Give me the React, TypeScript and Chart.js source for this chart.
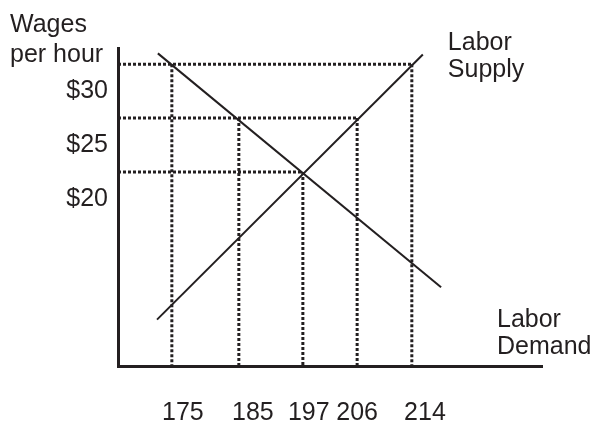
import React, { useEffect, useRef } from "react";
import { Chart, registerables } from "chart.js";

Chart.register(...registerables);

// ---- Data (schematic diagram, x is a schematic horizontal position 0..100) ----
const WAGE_LEVELS = [30, 25, 20];
const WAGE_LABELS = ["$30", "$25", "$20"];
const QTY_LABELS = ["175", "185", "197", "206", "214"];
const QTY_POS = [12.7, 28.5, 43.6, 56.4, 69.3]; // where each dotted drop line sits
const QTY_TOP_WAGE = [30, 25, 20, 25, 30]; // wage level each drop line starts from
const QTY_LABEL_POS = [15.3, 31.8, 45.0, 56.4, 72.4]; // where the quantity labels are printed
const DEMAND = [
  { x: 9.4, y: 31.0 },
  { x: 76.2, y: 9.3 },
];
const SUPPLY = [
  { x: 9.2, y: 6.3 },
  { x: 71.9, y: 30.9 },
];
const X_MIN = 0;
const X_MAX = 100;
const Y_MIN = 2;
const Y_MAX = 31.5;

const INK = "#231f20";
const FONT = "'Liberation Sans', Arial, Helvetica, sans-serif";

export default function App() {
  const ref = useRef<HTMLCanvasElement | null>(null);

  useEffect(() => {
    if (!ref.current) return;

    const solid = (pts: { x: number; y: number }[]) => ({
      data: pts,
      showLine: true,
      borderColor: INK,
      borderWidth: 2,
      pointRadius: 0,
      tension: 0,
    });
    const dotted = (pts: { x: number; y: number }[]) => ({
      data: pts,
      showLine: true,
      borderColor: INK,
      borderWidth: 3,
      borderDash: [3, 2],
      borderCapStyle: "butt",
      pointRadius: 0,
      tension: 0,
    });

    const horizontals = WAGE_LEVELS.map((w) => {
      const ends = QTY_POS.filter((_, i) => QTY_TOP_WAGE[i] === w);
      const end = Math.max(...ends);
      return dotted([
        { x: X_MIN, y: w },
        { x: end, y: w },
      ]);
    });
    const verticals = QTY_POS.map((q, i) =>
      dotted([
        { x: q, y: QTY_TOP_WAGE[i] },
        { x: q, y: Y_MIN },
      ])
    );

    const annotate = {
      id: "annotate",
      afterDraw(chart: any) {
        const { ctx, chartArea, scales } = chart;
        const xs = scales.x;
        const ys = scales.y;
        ctx.save();
        ctx.fillStyle = INK;
        ctx.font = `25px ${FONT}`;
        ctx.textAlign = "left";
        ctx.textBaseline = "alphabetic";
        // axis title
        ctx.fillText("Wages", chartArea.left - 108, chartArea.top - 16);
        ctx.fillText("per hour", chartArea.left - 108, chartArea.top + 14);
        // supply label next to the end of the supply line
        const sx = xs.getPixelForValue(SUPPLY[1].x) + 25;
        const sy = ys.getPixelForValue(SUPPLY[1].y) - 4;
        ctx.fillText("Labor", sx, sy);
        ctx.fillText("Supply", sx, sy + 27);
        // demand label near the end of the quantity axis
        const dx = chartArea.right - 45;
        const dy = chartArea.bottom - 39;
        ctx.fillText("Labor", dx, dy);
        ctx.fillText("Demand", dx, dy + 27);
        ctx.restore();
      },
    };

    const chart = new Chart(ref.current, {
      type: "scatter",
      data: {
        datasets: [solid(DEMAND), solid(SUPPLY), ...horizontals, ...verticals] as any,
      },
      options: {
        animation: false,
        responsive: false,
        devicePixelRatio: 1,
        layout: { padding: { top: 48, right: 52, left: 0, bottom: 0 } },
        plugins: {
          legend: { display: false },
          tooltip: { enabled: false },
        },
        scales: {
          x: {
            type: "linear",
            min: X_MIN,
            max: X_MAX,
            position: "bottom",
            grid: { display: false, drawTicks: false },
            border: { display: true, width: 3, color: INK },
            ticks: {
              autoSkip: false,
              maxRotation: 0,
              padding: 32,
              color: INK,
              font: { family: FONT, size: 25 },
              callback: (_v: any, i: number) => QTY_LABELS[i],
            },
            afterBuildTicks: (s: any) => {
              s.ticks = QTY_LABEL_POS.map((v) => ({ value: v }));
            },
            afterFit: (s: any) => {
              s.height = 58;
            },
          },
          y: {
            type: "linear",
            min: Y_MIN,
            max: Y_MAX,
            position: "left",
            grid: { display: false, drawTicks: false },
            border: { display: true, width: 3, color: INK },
            ticks: {
              autoSkip: false,
              padding: 10,
              labelOffset: 27,
              color: INK,
              font: { family: FONT, size: 25 },
              callback: (_v: any, i: number) => WAGE_LABELS[i],
            },
            afterBuildTicks: (s: any) => {
              s.ticks = WAGE_LEVELS.map((v) => ({ value: v }));
            },
            afterFit: (s: any) => {
              s.width = 118;
            },
          },
        },
      } as any,
      plugins: [annotate],
    });

    return () => chart.destroy();
  }, []);

  return (
    <div style={{ position: "fixed", left: 0, top: 0, width: 594, height: 424, background: "#fff" }}>
      <canvas ref={ref} width={594} height={424} style={{ width: 594, height: 424, display: "block" }} />
    </div>
  );
}
